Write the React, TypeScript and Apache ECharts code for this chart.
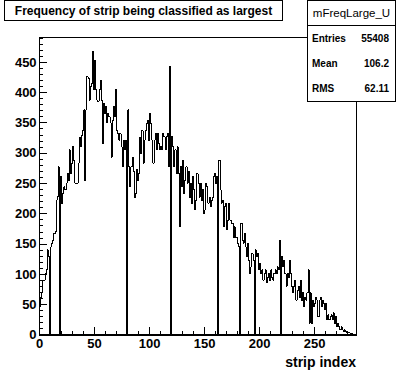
import React, { useEffect, useRef } from "react";
import * as echarts from "echarts";

// Histogram bin contents, one per strip (bins 0..287)
const BIN_COUNTS: number[] = [
  46, 62, 69, 90, 90, 101, 107, 140, 129, 0,
  145, 151, 156, 167, 170, 222, 228, 277, 0, 261,
  217, 233, 244, 239, 250, 266, 255, 305, 266, 283,
  310, 288, 250, 250, 250, 283, 326, 310, 328, 337,
  371, 255, 371, 426, 423, 387, 409, 415, 468, 404,
  453, 404, 387, 385, 404, 420, 387, 316, 382, 365,
  376, 350, 365, 360, 350, 293, 354, 376, 360, 404,
  337, 332, 321, 332, 310, 277, 321, 305, 321, 0,
  371, 277, 244, 277, 293, 270, 227, 233, 272, 255,
  266, 326, 299, 337, 283, 321, 337, 348, 354, 321,
  365, 348, 321, 283, 321, 332, 305, 332, 316, 305,
  310, 305, 332, 327, 305, 327, 332, 277, 443, 0,
  327, 310, 277, 305, 266, 310, 266, 178, 277, 244,
  288, 233, 255, 277, 250, 270, 227, 250, 217, 261,
  239, 206, 222, 266, 250, 227, 250, 222, 239, 200,
  206, 250, 244, 217, 227, 211, 222, 227, 261, 266,
  250, 261, 0, 288, 239, 217, 222, 178, 211, 217,
  173, 189, 217, 189, 184, 184, 161, 178, 161, 161,
  151, 145, 0, 184, 156, 151, 167, 145, 129, 151,
  123, 101, 112, 134, 123, 0, 140, 129, 134, 107,
  118, 101, 107, 90, 101, 107, 86, 95, 101, 90,
  107, 95, 90, 101, 107, 101, 112, 107, 156, 0,
  129, 112, 123, 101, 80, 101, 95, 123, 101, 80,
  69, 80, 90, 57, 73, 80, 62, 90, 57, 69,
  46, 62, 57, 69, 107, 19, 69, 19, 57, 46,
  52, 62, 57, 30, 57, 62, 46, 57, 52, 41,
  52, 25, 33, 25, 30, 33, 25, 36, 19, 30,
  13, 19, 13, 8, 13, 8, 5, 8, 5, 3,
  4, 3, 2, 3, 1, 0, 0, 0,
];

const X_MIN = 0;
const X_MAX = 288;
const Y_MIN = 0;
const Y_MAX = 491;
const MAJOR_STEP = 50;
const MINOR_STEP = 10;

const TITLE = "Frequency of strip being classified as largest";
const X_TITLE = "strip index";
const STATS_NAME = "mFreqLarge_U";
const STATS_LABELS = ["Entries", "Mean", "RMS"];
const STATS_VALUES = ["55408", "106.2", "62.11"];

const FONT = "'Liberation Sans', Arial, Helvetica, sans-serif";

export default function App() {
  const ref = useRef<HTMLDivElement>(null);

  useEffect(() => {
    if (!ref.current) return;
    const chart = echarts.init(ref.current, null, { renderer: "svg" });

    const points: number[][] = [];
    BIN_COUNTS.forEach((v, i) => {
      points.push([i, v], [i + 1, v]);
    });

    const majorLabel = (v: number) => (v % MAJOR_STEP === 0 ? String(v) : "");

    const statsGraphics: any[] = [];
    const boxL = 307.5, boxR = 395.5, boxT = 0.5, rowH = 25.2;
    statsGraphics.push({
      type: "rect",
      shape: { x: boxL, y: boxT, width: boxR - boxL, height: rowH * 4 },
      style: { fill: "#fff", stroke: "#000", lineWidth: 1 },
      z: 100,
    });
    statsGraphics.push({
      type: "line",
      shape: { x1: boxL, y1: boxT + rowH, x2: boxR, y2: boxT + rowH },
      style: { stroke: "#000", lineWidth: 1 },
      z: 101,
    });
    statsGraphics.push({
      type: "text",
      x: (boxL + boxR) / 2,
      y: boxT + rowH / 2,
      style: {
        text: STATS_NAME,
        fill: "#000",
        font: `11.5px ${FONT}`,
        align: "center",
        verticalAlign: "middle",
      },
      z: 102,
    });
    STATS_LABELS.forEach((lab, i) => {
      const cy = boxT + rowH * (i + 1.5);
      statsGraphics.push({
        type: "text",
        x: 312,
        y: cy,
        style: { text: lab, fill: "#000", font: `bold 10px ${FONT}`, align: "left", verticalAlign: "middle" },
        z: 102,
      });
      statsGraphics.push({
        type: "text",
        x: 389,
        y: cy,
        style: { text: STATS_VALUES[i], fill: "#000", font: `bold 10px ${FONT}`, align: "right", verticalAlign: "middle" },
        z: 102,
      });
    });

    const option: any = {
      animation: false,
      backgroundColor: "#fff",
      grid: {
        left: 39.6,
        right: 39.6,
        top: 37.2,
        bottom: 37.2,
        show: true,
        borderColor: "#000",
        borderWidth: 1,
        backgroundColor: "transparent",
        containLabel: false,
        outerBoundsMode: "none",
      },
      xAxis: [
        {
          type: "value",
          position: "bottom",
          min: X_MIN,
          max: X_MAX,
          interval: MAJOR_STEP,
          axisLine: { show: true, lineStyle: { color: "#000", width: 1 } },
          axisTick: { show: true, inside: true, length: 8, lineStyle: { color: "#000", width: 1 } },
          axisLabel: {
            color: "#000",
            fontWeight: "bold",
            fontSize: 13,
            fontFamily: FONT,
            margin: 2,
            formatter: majorLabel,
          },
          splitLine: { show: false },
        },
        {
          type: "value",
          position: "bottom",
          min: X_MIN,
          max: X_MAX,
          interval: MINOR_STEP,
          axisLine: { show: false },
          axisTick: { show: true, inside: true, length: 4, lineStyle: { color: "#000", width: 1 } },
          axisLabel: { show: false },
          splitLine: { show: false },
        },
      ],
      yAxis: [
        {
          type: "value",
          position: "left",
          min: Y_MIN,
          max: Y_MAX,
          interval: MAJOR_STEP,
          axisLine: { show: true, lineStyle: { color: "#000", width: 1 } },
          axisTick: { show: true, inside: true, length: 7, lineStyle: { color: "#000", width: 1 } },
          axisLabel: {
            color: "#000",
            fontWeight: "bold",
            fontSize: 13,
            fontFamily: FONT,
            margin: 3,
            formatter: majorLabel,
          },
          splitLine: { show: false },
        },
        {
          type: "value",
          position: "left",
          min: Y_MIN,
          max: Y_MAX,
          interval: MINOR_STEP,
          axisLine: { show: false },
          axisTick: { show: true, inside: true, length: 3.5, lineStyle: { color: "#000", width: 1 } },
          axisLabel: { show: false },
          splitLine: { show: false },
        },
      ],
      series: [
        {
          type: "line",
          xAxisIndex: 0,
          yAxisIndex: 0,
          data: points,
          symbol: "none",
          showSymbol: false,
          silent: true,
          clip: true,
          lineStyle: { color: "#000", width: 1 },
        },
      ],
      graphic: [
        {
          type: "rect",
          shape: { x: 4.5, y: 0.5, width: 278, height: 19.5 },
          style: { fill: "#fff", stroke: "#000", lineWidth: 1 },
          z: 100,
        },
        {
          type: "text",
          x: 143.5,
          y: 10.5,
          style: {
            text: TITLE,
            fill: "#000",
            font: `bold 12px ${FONT}`,
            align: "center",
            verticalAlign: "middle",
          },
          z: 101,
        },
        {
          type: "text",
          x: 356,
          y: 362,
          style: {
            text: X_TITLE,
            fill: "#000",
            font: `bold 14px ${FONT}`,
            align: "right",
            verticalAlign: "middle",
          },
          z: 101,
        },
        ...statsGraphics,
      ],
    };

    chart.setOption(option);
    ref.current.querySelectorAll("path").forEach((p) => {
      p.setAttribute("shape-rendering", "crispEdges");
    });
    return () => {
      chart.dispose();
    };
  }, []);

  return (
    <div
      ref={ref}
      style={{ position: "absolute", left: 0, top: 0, width: 396, height: 372, background: "#fff" }}
    />
  );
}
